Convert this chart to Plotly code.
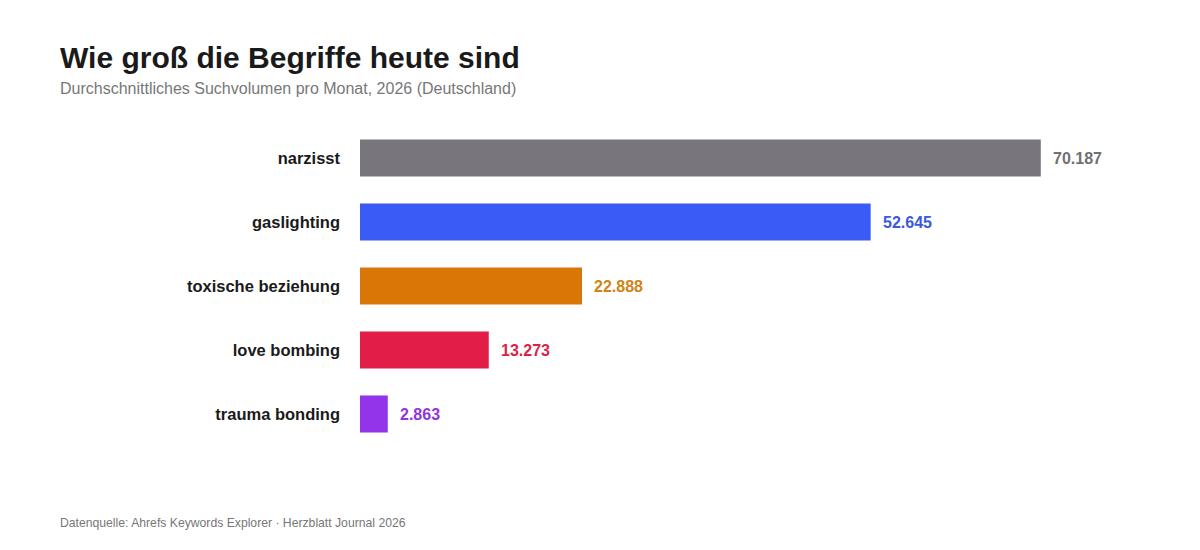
import plotly.graph_objects as go

categories = ["narzisst", "gaslighting", "toxische beziehung", "love bombing", "trauma bonding"]
values = [70187, 52645, 22888, 13273, 2863]
value_labels = ["70.187", "52.645", "22.888", "13.273", "2.863"]
bar_colors = ["#78767c", "#3b5bf6", "#d97706", "#e11d48", "#9333ea"]
label_colors = ["#707074", "#3a58e0", "#d08416", "#dc1f47", "#8f35e0"]

W, H = 1200, 550
OFF = 8  # page offset of the rendered figure
L, T = 360 - OFF, 126 - OFF
pw = 776
B = H - (446 - OFF)
R = W - L - pw
ph = H - T - B

def px(x):
    return (x - OFF - L) / pw

def py(y):
    return (H - B - (y - OFF)) / ph

fig = go.Figure()
fig.add_trace(go.Bar(
    x=values, y=categories, orientation="h",
    marker=dict(color=bar_colors, line=dict(width=0)),
    width=0.58, hoverinfo="skip",
))

for v, c, lab, col in zip(values, categories, value_labels, label_colors):
    fig.add_annotation(x=v, y=c, xref="x", yref="y", text=lab, showarrow=False,
                       xanchor="left", xshift=10,
                       font=dict(family="Liberation Sans, Arial", size=16, color=col, weight="bold"))

fig.add_annotation(x=px(58), y=py(57), xref="paper", yref="paper", text="<b>Wie groß die Begriffe heute sind</b>",
                   showarrow=False, xanchor="left", yanchor="middle",
                   font=dict(family="Liberation Sans, Arial", size=30, color="#1a1a1a"))
fig.add_annotation(x=px(58), y=py(89), xref="paper", yref="paper",
                   text="Durchschnittliches Suchvolumen pro Monat, 2026 (Deutschland)",
                   showarrow=False, xanchor="left", yanchor="middle",
                   font=dict(family="Liberation Sans, Arial", size=16, color="#777777"))
fig.add_annotation(x=px(58), y=py(523), xref="paper", yref="paper",
                   text="Datenquelle: Ahrefs Keywords Explorer · Herzblatt Journal 2026",
                   showarrow=False, xanchor="left", yanchor="middle",
                   font=dict(family="Liberation Sans, Arial", size=12.2, color="#777777"))

fig.update_layout(
    width=W, height=H,
    margin=dict(l=L, r=R, t=T, b=B, autoexpand=False),
    paper_bgcolor="white", plot_bgcolor="white",
    showlegend=False,
    xaxis=dict(range=[0, 80000], visible=False, fixedrange=True),
    yaxis=dict(categoryorder="array", categoryarray=categories, autorange="reversed",
               showgrid=False, zeroline=False, showline=False, ticks="",
               ticklabelstandoff=19,
               tickfont=dict(family="Liberation Sans, Arial", size=16.5, color="#1a1a1a", weight="bold")),
    bargap=0.42,
)

fig.write_html("out.html")
